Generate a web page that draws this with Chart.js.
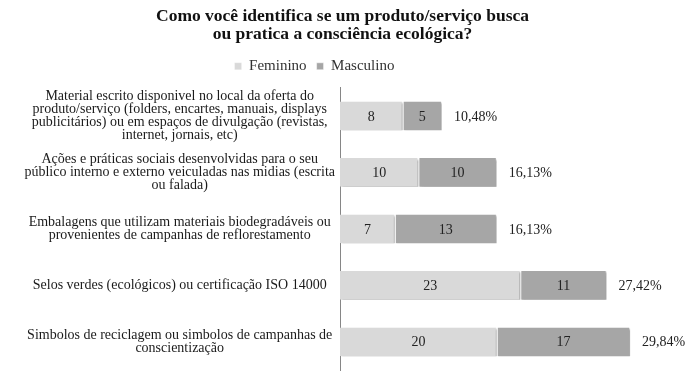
<!DOCTYPE html>
<html>
<head>
<meta charset="utf-8">
<script src="https://cdn.jsdelivr.net/npm/chart.js@4.4.1/dist/chart.umd.min.js"></script>
<style>
  html, body { margin: 0; padding: 0; background: #ffffff; overflow: hidden; }
  canvas { display: block; }
</style>
</head>
<body>
<canvas id="c" width="691" height="376" style="width:691px;height:376px"></canvas>
<script>
const categories = [
  ["Material escrito disponivel no local da oferta do", "produto/serviço (folders, encartes, manuais, displays", "publicitários) ou em espaços de divulgação (revistas,", "internet, jornais, etc)"],
  ["Ações e práticas sociais desenvolvidas para o seu", "público interno e externo veiculadas nas midias (escrita", "ou falada)"],
  ["Embalagens que utilizam materiais biodegradáveis ou", "provenientes de campanhas de reflorestamento"],
  ["Selos verdes (ecológicos) ou certificação ISO 14000"],
  ["Simbolos de reciclagem ou simbolos de campanhas de", "conscientização"]
];
const feminino = [8, 10, 7, 23, 20];
const masculino = [5, 10, 13, 11, 17];
const percentuais = [10.48, 16.13, 16.13, 27.42, 29.84];
const seriesNames = ["Feminino", "Masculino"];
const titleLines = ["Como você identifica se um produto/serviço busca", "ou pratica a consciência ecológica?"];

const SERIF = "'Liberation Serif', 'DejaVu Serif', serif";

const shadowPlugin = {
  id: 'shadow',
  beforeDatasetsDraw(chart) {
    const ctx = chart.ctx;
    ctx.save();
    ctx.shadowColor = 'rgba(0,0,0,0.35)';
    ctx.shadowBlur = 2;
    ctx.shadowOffsetX = 1.5;
    ctx.shadowOffsetY = 1.5;
  },
  afterDatasetsDraw(chart) {
    chart.ctx.restore();
  }
};

const labelsPlugin = {
  id: 'barLabels',
  afterDatasetsDraw(chart) {
    const ctx = chart.ctx;
    ctx.save();
    ctx.font = "14px " + SERIF;
    ctx.fillStyle = '#222222';
    ctx.textBaseline = 'middle';
    ctx.textAlign = 'center';
    chart.data.datasets.forEach((ds, di) => {
      const meta = chart.getDatasetMeta(di);
      meta.data.forEach((bar, i) => {
        const cx = (bar.base + bar.x) / 2;
        ctx.fillText(String(ds.data[i]), cx, bar.y + 1);
      });
    });
    const last = chart.getDatasetMeta(chart.data.datasets.length - 1);
    ctx.textAlign = 'left';
    last.data.forEach((bar, i) => {
      const txt = percentuais[i].toFixed(2).replace('.', ',') + '%';
      ctx.fillText(txt, bar.x + 12, bar.y + 1);
    });
    ctx.restore();
  }
};

const legendShift = {
  id: 'legendShift',
  afterLayout(chart) {
    const lg = chart.legend;
    if (lg) {
      lg.right -= 56;
      lg.top -= 4;
      lg.bottom -= 4;
    }
  }
};

new Chart(document.getElementById('c'), {
  type: 'bar',
  data: {
    labels: categories,
    datasets: [
      { label: seriesNames[0], data: feminino, backgroundColor: '#d9d9d9', borderColor: '#ffffff', borderWidth: {right: 1}, borderSkipped: false },
      { label: seriesNames[1], data: masculino, backgroundColor: '#a6a6a6', borderColor: '#ffffff', borderWidth: {left: 1, right: 1}, borderSkipped: false }
    ]
  },
  options: {
    indexAxis: 'y',
    responsive: false,
    maintainAspectRatio: false,
    animation: false,
    devicePixelRatio: 1,
    layout: { padding: { top: 7, right: 6, bottom: 6, left: 0 } },
    datasets: { bar: { categoryPercentage: 1.0, barPercentage: 0.51 } },
    scales: {
      x: {
        stacked: true,
        display: false,
        min: 0,
        max: 44
      },
      y: {
        stacked: true,
        grid: { display: false, drawTicks: false },
        border: { display: true, color: '#868686', width: 1 },
        ticks: {
          crossAlign: 'center',
          padding: 5,
          color: '#1a1a1a',
          font: { family: SERIF, size: 14, lineHeight: 0.93 }
        },
        afterFit(scale) {
          scale.width = 340;
          scale.paddingTop = 0;
          scale.paddingBottom = 0;
        }
      }
    },
    plugins: {
      title: {
        display: true,
        text: titleLines,
        color: '#111111',
        font: { family: SERIF, size: 17.5, weight: 'bold', lineHeight: 1.05 },
        padding: { top: 0, bottom: 9 }
      },
      legend: {
        display: true,
        position: 'top',
        labels: {
          boxWidth: 7,
          boxHeight: 7,
          color: '#333333',
          padding: 10,
          font: { family: SERIF, size: 15 }
        }
      },
      tooltip: { enabled: false }
    }
  },
  plugins: [shadowPlugin, labelsPlugin, legendShift]
});
</script>
</body>
</html>
